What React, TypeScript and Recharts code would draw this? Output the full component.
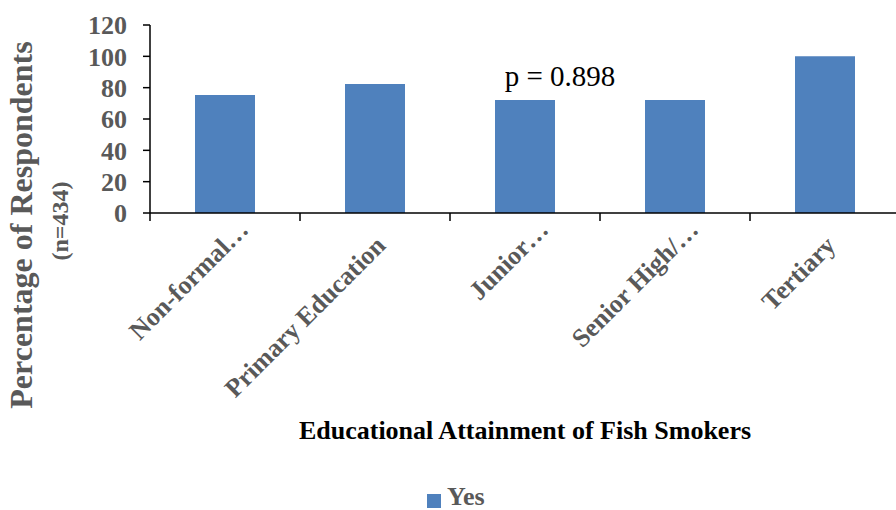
import { BarChart, Bar, XAxis, YAxis, Legend, LabelList } from "recharts"

const categories = ["Non-formal…", "Primary Education", "Junior…", "Senior High/…", "Tertiary"]
const yesValues = [75.3, 82.3, 72.1, 72.1, 100]
const yTicks = [0, 20, 40, 60, 80, 100, 120]
const pNote = { category: "Junior…", text: "p = 0.898" }

const data = categories.map((name, i) => ({ name, yes: yesValues[i] }))

const serif = "'Liberation Serif', 'Times New Roman', serif"
const gray = "#595959"
const barColor = "#4F81BD"

function CategoryTick(props: any) {
  const { x, y, payload, index, visibleTicksCount } = props
  const half = payload.offset || 75
  const label: string = payload.value
  const cut = label.endsWith("…")
  const ax = x + (cut ? 25 : 12)
  const ay = y + (cut ? 18 : 34)
  return (
    <g>
      <line x1={x - half} y1={y} x2={x - half} y2={y + 8} stroke="#000" strokeWidth={1.5} />
      {index === visibleTicksCount - 1 && (
        <line x1={x + half} y1={y} x2={x + half} y2={y + 8} stroke="#000" strokeWidth={1.5} />
      )}
      <text
        x={ax}
        y={ay}
        transform={`rotate(-45, ${ax}, ${ay})`}
        textAnchor="end"
        fontFamily={serif}
        fontWeight="bold"
        fontSize={26}
        fill={gray}
      >
        {label}
      </text>
    </g>
  )
}

function YTitle() {
  return (
    <g fontFamily={serif} fontWeight="bold" fill={gray}>
      <text x={32} y={225} transform="rotate(-90, 32, 225)" textAnchor="middle" fontSize={32}>
        Percentage of Respondents
      </text>
      <text x={68} y={221} transform="rotate(-90, 68, 221)" textAnchor="middle" fontSize={24}>
        (n=434)
      </text>
    </g>
  )
}

function XTitle(props: any) {
  const { viewBox } = props
  return (
    <text
      x={viewBox.x + viewBox.width / 2}
      y={439}
      textAnchor="middle"
      fontFamily={serif}
      fontWeight="bold"
      fontSize={26}
      fill="#000"
    >
      Educational Attainment of Fish Smokers
    </text>
  )
}

function PLabel(props: any) {
  const { x, y, width, index } = props
  if (data[index].name !== pNote.category) return null
  return (
    <text x={x + width / 2 + 35} y={y - 14} textAnchor="middle" fontFamily={serif} fontSize={29} fill="#000">
      {pNote.text}
    </text>
  )
}

function LegendContent() {
  return (
    <div style={{ position: "relative", height: 22 }}>
      <div style={{ position: "absolute", left: 427, top: 8, width: 14, height: 14, background: barColor }} />
      <span
        style={{
          position: "absolute",
          left: 447,
          top: 1,
          lineHeight: "20px",
          fontFamily: serif,
          fontWeight: "bold",
          fontSize: 26,
          color: gray,
        }}
      >
        Yes
      </span>
    </div>
  )
}

export default function App() {
  return (
    <div style={{ position: "fixed", left: 0, top: 0, width: 896, height: 510, overflow: "hidden", background: "#fff" }}>
      <BarChart width={910} height={510} data={data} margin={{ top: 25, right: 10, bottom: 0, left: 0 }}>
        <YAxis
          width={150}
          domain={[0, 120]}
          ticks={yTicks}
          interval={0}
          tickSize={7}
          tickMargin={16}
          axisLine={{ stroke: "#000", strokeWidth: 1.5 }}
          tickLine={{ stroke: "#000", strokeWidth: 1.5 }}
          tick={{ fontFamily: serif, fontWeight: "bold", fontSize: 26, fill: gray }}
          label={<YTitle />}
        />
        <XAxis
          dataKey="name"
          interval={0}
          height={275}
          tickSize={0}
          tickMargin={0}
          tickLine={false}
          axisLine={{ stroke: "#000", strokeWidth: 1.5 }}
          tick={<CategoryTick />}
          label={<XTitle />}
        />
        <Legend
          verticalAlign="bottom"
          height={22}
          wrapperStyle={{ left: 0, top: 486, bottom: "auto", width: 910 }}
          content={<LegendContent />}
        />
        <Bar dataKey="yes" name="Yes" fill={barColor} barSize={60} isAnimationActive={false}>
          <LabelList dataKey="yes" content={<PLabel />} />
        </Bar>
      </BarChart>
    </div>
  )
}
